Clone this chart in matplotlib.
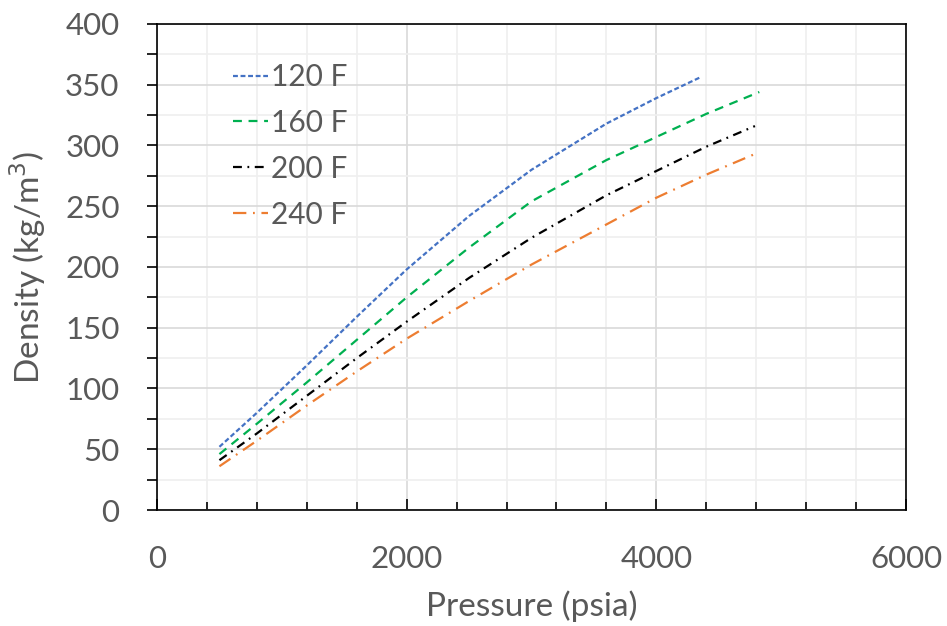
import numpy as np
import matplotlib.pyplot as plt
from matplotlib.ticker import MultipleLocator

# density vs pressure
p_120 = [500, 800, 1200, 1600, 2000, 2500, 3000, 3600, 4000, 4350]
d_120 = [52, 80, 119, 159, 198, 242, 280, 318, 339, 356]

p_160 = [500, 800, 1200, 1600, 2000, 2500, 3000, 3600, 4000, 4400, 4825]
d_160 = [46, 71, 105, 140, 175, 216, 254, 288, 307, 326, 344]

p_200 = [500, 800, 1200, 1600, 2000, 2500, 3000, 3600, 4000, 4400, 4790]
d_200 = [41, 63, 94, 125, 155, 191, 224, 259, 279, 299, 316]

p_240 = [500, 800, 1200, 1600, 2000, 2500, 3000, 3600, 4000, 4400, 4790]
d_240 = [36, 57, 86, 114, 141, 172, 202, 235, 257, 276, 293]

labels = ['120 F', '160 F', '200 F', '240 F']

txt = '#595959'
plt.rcParams['font.family'] = ['Lato', 'DejaVu Sans']

fig = plt.figure(figsize=(9.47, 6.26), dpi=100)
ax = fig.add_axes([0.1658, 0.1853, 0.7909, 0.7764])

ax.plot(p_120, d_120, color='#4472C4', lw=1.6, dashes=(2.2, 1.2), label=labels[0])
ax.plot(p_160, d_160, color='#00B050', lw=1.6, dashes=(4, 3), label=labels[1])
ax.plot(p_200, d_200, color='#000000', lw=1.6, dashes=(4, 2.5, 0.8, 2.5), label=labels[2])
ax.plot(p_240, d_240, color='#ED7D31', lw=1.6, dashes=(6, 3, 0.8, 3), label=labels[3])

ax.set_xlim(0, 6000)
ax.set_ylim(0, 400)
ax.xaxis.set_major_locator(MultipleLocator(2000))
ax.xaxis.set_minor_locator(MultipleLocator(400))
ax.yaxis.set_major_locator(MultipleLocator(50))
ax.yaxis.set_minor_locator(MultipleLocator(25))

ax.grid(which='major', color='#D9D9D9', lw=1.2)
ax.grid(which='minor', color='#EFEFEF', lw=1.2)
ax.set_axisbelow(True)

ax.tick_params(axis='x', which='major', direction='in', length=8, width=1.2,
               pad=25, labelsize=22.5, labelcolor=txt)
ax.tick_params(axis='x', which='minor', direction='in', length=6, width=1.2)
ax.tick_params(axis='y', which='both', direction='out', length=7, width=1.2,
               labelsize=22.5, labelcolor=txt)
ax.tick_params(axis='y', which='major', pad=20)

for s in ax.spines.values():
    s.set_color('#000000')
    s.set_linewidth(1.2)

ax.set_xlabel('Pressure (psia)', fontsize=24, color=txt, labelpad=13)
ax.set_ylabel('Density (kg/m$^3$)', fontsize=24, color=txt, labelpad=12)

leg = ax.legend(loc='upper left', bbox_to_anchor=(0.065, 0.975), frameon=False,
                fontsize=21.5, handlelength=1.17, handletextpad=0.12,
                labelspacing=0.6, labelcolor=txt)

fig.savefig('out.png', dpi=100)
